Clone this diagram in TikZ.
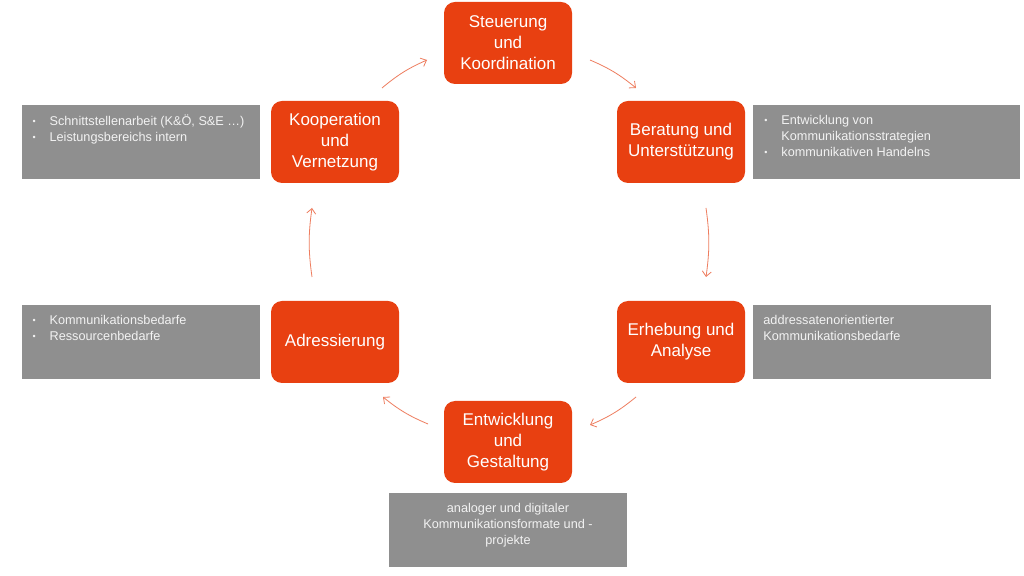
\documentclass[tikz,border=0pt]{standalone}
\usepackage{fontspec}
\setmainfont{Liberation Sans}
\usetikzlibrary{arrows.meta,positioning}
\definecolor{BoxOrange}{RGB}{232,64,17}
\definecolor{NoteGray}{RGB}{143,143,143}
\definecolor{ArrowOrange}{RGB}{238,125,95}
\tikzstyle{Block} = [rectangle, fill=BoxOrange, rounded corners=11pt, minimum width=128pt, minimum height=82pt, inner sep=0pt, text=white, align=center, font=\fontsize{17}{21}\selectfont]
\tikzstyle{Note}  = [rectangle, fill=NoteGray, minimum height=74pt, inner xsep=11pt, inner ysep=0pt, text=white!95!black, font=\fontsize{12.7}{16}\selectfont]
\tikzstyle{Cycle} = [-{Straight Barb[length=5pt,width=9pt]}, draw=ArrowOrange, line width=0.8pt, bend left=8]
\newcommand{\Bullet}[1]{\par\hangindent=17pt\hangafter=1\noindent\makebox[17pt][l]{\raisebox{1pt}{\small\textbullet}}#1}
\newcommand{\NoteText}[2]{\parbox[c][74pt][t]{#1}{\raggedright\hyphenpenalty=10000\vspace*{10pt}#2}}

\begin{document}
\begin{tikzpicture}[x=1pt,y=1pt]
    \useasboundingbox[fill=white] (0,0) rectangle (1024,575);
    % cycle
    \node[Block] (steuerung)   at (508,532) {Steuerung\\und\\Koordination};
    \node[Block] (beratung)    at (681,433) {Beratung und\\Unterstützung};
    \node[Block] (erhebung)    at (681,233) {Erhebung und\\Analyse};
    \node[Block] (entwicklung) at (508,133) {Entwicklung\\und\\Gestaltung};
    \node[Block] (adress)      at (335,233) {Adressierung};
    \node[Block] (kooperation) at (335,433) {Kooperation\\und\\Vernetzung};
    % notes
    \node[Note] (kooperationNote) [left=11pt of kooperation]
        {\NoteText{216pt}{\Bullet{Schnittstellenarbeit (K\&Ö, S\&E …)}\Bullet{Leistungsbereichs intern}}};
    \node[Note] (adressNote) [left=11pt of adress]
        {\NoteText{216pt}{\Bullet{Kommunikationsbedarfe}\Bullet{Ressourcenbedarfe}}};
    \node[Note] (beratungNote) [right=8pt of beratung]
        {\NoteText{245pt}{\Bullet{Entwicklung von\hfil\break Kommunikationsstrategien}\Bullet{kommunikativen Handelns}}};
    \node[Note, inner xsep=10pt] (erhebungNote) [right=8pt of erhebung]
        {\NoteText{218pt}{\noindent addressatenorientierter\\Kommunikationsbedarfe}};
    \node[Note] (entwicklungNote) [below=10pt of entwicklung]
        {\NoteText{216pt}{\centering analoger und digitaler\\Kommunikationsformate und -\\projekte}};
    % arrow ends
    \coordinate (k out) at (382,487);
    \coordinate (s in)  at (427,515);
    \coordinate (s out) at (590,515);
    \coordinate (b in)  at (636,487);
    \coordinate (b out) at (706,367);
    \coordinate (e in)  at (706,298);
    \coordinate (e out) at (636,178);
    \coordinate (g in)  at (590,150);
    \coordinate (g out) at (428,151);
    \coordinate (a in)  at (383,178);
    \coordinate (a out) at (312,298);
    \coordinate (k in)  at (312,367);
    \draw[Cycle] (k out) to (s in);
    \draw[Cycle] (s out) to (b in);
    \draw[Cycle] (b out) to (e in);
    \draw[Cycle] (e out) to (g in);
    \draw[Cycle] (g out) to (a in);
    \draw[Cycle] (a out) to (k in);
\end{tikzpicture}
\end{document}
